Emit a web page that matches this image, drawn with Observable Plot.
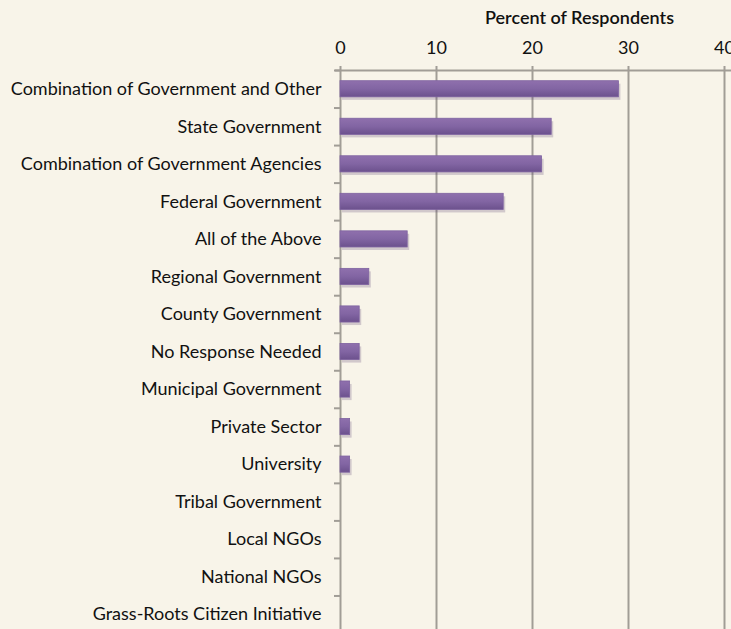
<!DOCTYPE html>
<html>
<head>
<meta charset="utf-8">
<script src="https://cdn.jsdelivr.net/npm/d3@7"></script>
<script src="https://cdn.jsdelivr.net/npm/@observablehq/plot@0.6"></script>
<style>
  html, body { margin: 0; padding: 0; background: #f8f4e9; overflow: hidden; }
  #chart svg { display: block; }
</style>
</head>
<body>
<div id="chart"></div>
<script>
const categories = [
  "Combination of Government and Other",
  "State Government",
  "Combination of Government Agencies",
  "Federal Government",
  "All of the Above",
  "Regional Government",
  "County Government",
  "No Response Needed",
  "Municipal Government",
  "Private Sector",
  "University",
  "Tribal Government",
  "Local NGOs",
  "National NGOs",
  "Grass-Roots Citizen Initiative"
];
const percents = [29, 22, 21, 17, 7, 3, 2, 2, 1, 1, 1, 0, 0, 0, 0];
const xTicks = [0, 10, 20, 30, 40];
const axisTitle = "Percent of Respondents";

const data = categories.map((c, i) => ({category: c, value: percents[i]}));

const W = 731, H = 633, MT = 70, MB = 0;
const step = (H - MT - MB) / categories.length;
const font = "Lato, 'Open Sans', sans-serif";
const gridColor = "#a19d96";

const plot = Plot.plot({
  width: W,
  height: H,
  marginTop: MT,
  marginBottom: MB,
  marginLeft: 340,
  marginRight: 7,
  style: {background: "#f8f4e9", fontFamily: font, fontSize: "18px", color: "#111", overflow: "hidden"},
  x: {domain: [0, 40]},
  y: {domain: categories, paddingInner: 0.57, paddingOuter: 0.285, align: 0.5, round: false},
  marks: [
    Plot.gridX(xTicks, {stroke: gridColor, strokeOpacity: 1, strokeWidth: 2}),
    Plot.ruleY([categories[0]], {x1: 0, x2: 40, dy: -step / 2, insetLeft: -5, insetRight: -10, stroke: gridColor, strokeWidth: 2}),
    Plot.axisX(xTicks, {anchor: "top", tickSize: 5, tickPadding: 12, stroke: gridColor, strokeWidth: 2, fontSize: 18, fill: "#111", label: null, tickFormat: d => String(d)}),
    Plot.axisY({anchor: "left", tickSize: 6, text: null, stroke: gridColor, strokeWidth: 2, dy: -step / 2, label: null}),
    Plot.axisY({anchor: "left", tickSize: 0, tickPadding: 19, fontSize: 18, fill: "#111", label: null}),
    Plot.barX(data, {
      y: "category", x: "value",
      fill: "#5a4474", fillOpacity: 0.25, dx: 2, dy: 3,
      filter: d => d.value > 0
    }),
    Plot.barX(data, {
      y: "category", x: "value",
      fill: "url(#barGrad)", stroke: "#7e62a0", strokeWidth: 0.8,
      filter: d => d.value > 0
    }),
    Plot.text([axisTitle], {frameAnchor: "top", dx: 47, dy: -59, fontSize: 18, fontWeight: 600, fill: "#111"})
  ]
});

const defs = d3.select(plot).insert("defs", ":first-child");
const g = defs.append("linearGradient").attr("id", "barGrad").attr("x1", 0).attr("y1", 0).attr("x2", 0).attr("y2", 1);
g.append("stop").attr("offset", "0%").attr("stop-color", "#8f70ad");
g.append("stop").attr("offset", "50%").attr("stop-color", "#8265a3");
g.append("stop").attr("offset", "100%").attr("stop-color", "#6c518d");

document.getElementById("chart").appendChild(plot);
</script>
</body>
</html>
